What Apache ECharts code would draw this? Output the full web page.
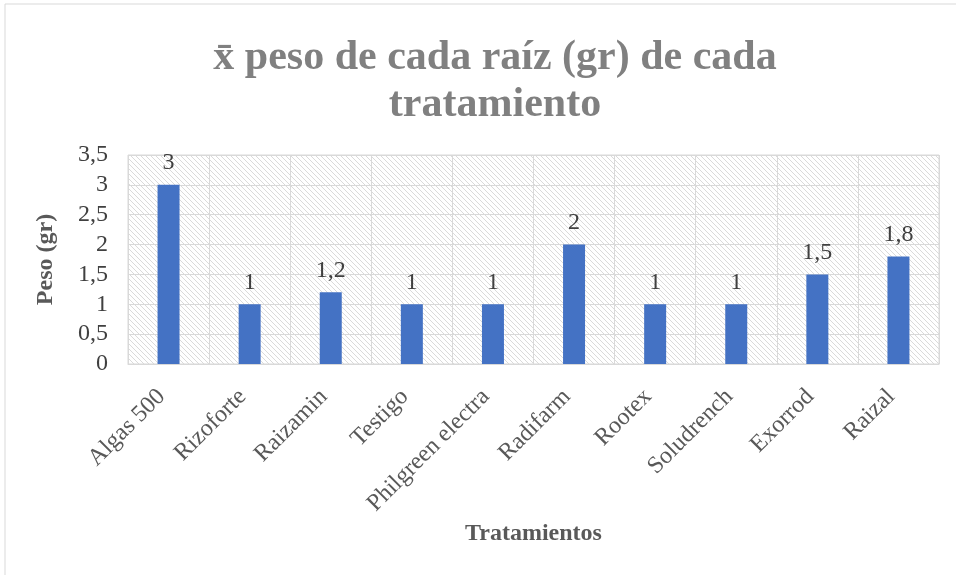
<!DOCTYPE html>
<html>
<head>
<meta charset="utf-8">
<script src="https://cdn.jsdelivr.net/npm/echarts@6/dist/echarts.min.js"></script>
<style>
  html, body { margin: 0; padding: 0; background: #fff; }
  #chart { width: 956px; height: 575px; }
</style>
</head>
<body>
<div id="chart"></div>
<script>
  // datos del gráfico
  const categories = ["Algas 500", "Rizoforte", "Raizamin", "Testigo", "Philgreen electra",
    "Radifarm", "Rootex", "Soludrench", "Exorrod", "Raizal"];
  const pesoValues = [3, 1, 1.2, 1, 1, 2, 1, 1, 1.5, 1.8];
  const yTicks = [0, 0.5, 1, 1.5, 2, 2.5, 3, 3.5];

  const fmt = (v) => String(v).replace(".", ",");

  // trama diagonal del fondo
  const hatch = document.createElement("canvas");
  hatch.width = 5;
  hatch.height = 5;
  const ctx = hatch.getContext("2d");
  ctx.fillStyle = "#ffffff";
  ctx.fillRect(0, 0, 5, 5);
  ctx.strokeStyle = "#dadada";
  ctx.lineWidth = 1;
  ctx.beginPath();
  ctx.moveTo(-1, -1);
  ctx.lineTo(6, 6);
  ctx.moveTo(-1, 4);
  ctx.lineTo(1, 6);
  ctx.moveTo(4, -1);
  ctx.lineTo(6, 1);
  ctx.stroke();

  const serif = "Liberation Serif";

  const chart = echarts.init(document.getElementById("chart"), null, { renderer: "canvas" });
  chart.setOption({
    animation: false,
    title: {
      text: "x\u0304 peso de cada raíz (gr) de cada\ntratamiento",
      left: 490,
      top: 30,
      textAlign: "center",
      textStyle: {
        fontFamily: serif,
        fontSize: 42,
        fontWeight: "bold",
        color: "#808080",
        lineHeight: 47,
      },
    },
    graphic: [
      {
        type: "rect",
        shape: { x: 5, y: 4, width: 1000, height: 700 },
        style: { fill: "none", stroke: "#d9d9d9", lineWidth: 1 },
        z: -1,
      },
    ],
    grid: {
      left: 128,
      right: 17,
      top: 155,
      bottom: 211,
      show: true,
      backgroundColor: { image: hatch, repeat: "repeat" },
      borderColor: "#d9d9d9",
      borderWidth: 1,
    },
    xAxis: {
      type: "category",
      data: categories,
      name: "Tratamientos",
      nameLocation: "middle",
      nameGap: 158,
      nameTextStyle: {
        fontFamily: serif,
        fontSize: 24,
        fontWeight: "bold",
        color: "#595959",
      },
      axisLine: { lineStyle: { color: "#d9d9d9" } },
      axisTick: { show: false },
      splitLine: { show: true, lineStyle: { color: "#d9d9d9", width: 1 } },
      axisLabel: {
        interval: 0,
        rotate: 45,
        margin: 22,
        padding: [0, 10, 0, 0],
        fontFamily: serif,
        fontSize: 24,
        color: "#595959",
      },
    },
    yAxis: {
      type: "value",
      min: 0,
      max: 3.5,
      interval: 0.5,
      name: "Peso (gr)",
      nameLocation: "middle",
      nameGap: 70,
      nameTextStyle: {
        fontFamily: serif,
        fontSize: 24,
        fontWeight: "bold",
        color: "#595959",
      },
      axisLine: { show: false },
      axisTick: { show: false },
      splitLine: { show: true, lineStyle: { color: "#d9d9d9", width: 1 } },
      axisLabel: {
        margin: 20,
        fontFamily: serif,
        fontSize: 24,
        color: "#404040",
        formatter: (v) => (yTicks.includes(v) ? fmt(v) : ""),
      },
    },
    series: [
      {
        type: "bar",
        data: pesoValues,
        barWidth: 22,
        itemStyle: { color: "#4472c4" },
        label: {
          show: true,
          position: "top",
          distance: 10,
          fontFamily: serif,
          fontSize: 24,
          color: "#404040",
          formatter: (p) => fmt(p.value),
        },
      },
    ],
  });
</script>
</body>
</html>
